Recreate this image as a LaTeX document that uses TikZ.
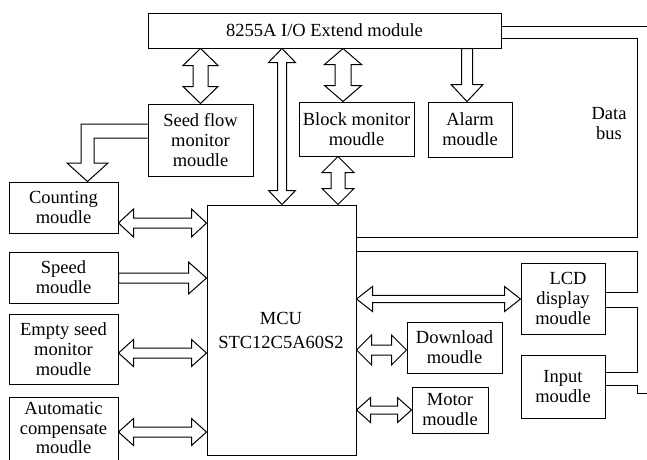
\documentclass[tikz,border=0pt]{standalone}
\usepackage{fontspec}
\setmainfont{Liberation Serif}
\usetikzlibrary{calc,fit}
\tikzset{
  box/.style={draw, line width=1pt, inner sep=0pt, align=center},
  lbl/.style={align=center, font=\fontsize{18.5}{20}\selectfont},
  fat/.style={draw, line width=1pt, fill=white, line join=miter},
  bus/.style={draw, line width=1pt}
}
% vertical double arrow: #1 top, #2 bottom, #3 head length, #4 head half width, #5 shaft half width
\newcommand\vdbl[5]{\draw[fat] let \p1=(#1), \p2=(#2) in
 (\x1,\y1) -- (\x1+#4pt,\y1-#3pt) -- (\x1+#5pt,\y1-#3pt) -- (\x1+#5pt,\y2+#3pt) -- (\x1+#4pt,\y2+#3pt) -- (\x1,\y2)
 -- (\x1-#4pt,\y2+#3pt) -- (\x1-#5pt,\y2+#3pt) -- (\x1-#5pt,\y1-#3pt) -- (\x1-#4pt,\y1-#3pt) -- cycle;}
% vertical single arrow pointing down
\newcommand\vsgl[5]{\draw[fat] let \p1=(#1), \p2=(#2) in
 (\x1-#5pt,\y1) -- (\x1+#5pt,\y1) -- (\x1+#5pt,\y2+#3pt) -- (\x1+#4pt,\y2+#3pt) -- (\x1,\y2)
 -- (\x1-#4pt,\y2+#3pt) -- (\x1-#5pt,\y2+#3pt) -- cycle;}
% horizontal double arrow: #1 left, #2 right
\newcommand\hdbl[5]{\draw[fat] let \p1=(#1), \p2=(#2) in
 (\x1,\y1) -- (\x1+#3pt,\y1+#4pt) -- (\x1+#3pt,\y1+#5pt) -- (\x2-#3pt,\y1+#5pt) -- (\x2-#3pt,\y1+#4pt) -- (\x2,\y1)
 -- (\x2-#3pt,\y1-#4pt) -- (\x2-#3pt,\y1-#5pt) -- (\x1+#3pt,\y1-#5pt) -- (\x1+#3pt,\y1-#4pt) -- cycle;}
% horizontal single arrow pointing right
\newcommand\hsgl[5]{\draw[fat] let \p1=(#1), \p2=(#2) in
 (\x1,\y1+#5pt) -- (\x2-#3pt,\y1+#5pt) -- (\x2-#3pt,\y1+#4pt) -- (\x2,\y1)
 -- (\x2-#3pt,\y1-#4pt) -- (\x2-#3pt,\y1-#5pt) -- (\x1,\y1-#5pt) -- cycle;}
\begin{document}
\begin{tikzpicture}[x=1pt,y=-1pt]
\useasboundingbox (0,0) rectangle (647,459);
\clip (0,0) rectangle (647,459);
\fill[white] (0,0) rectangle (647,459);

% boxes
\node[box, fit={(148,13) (501,48)}] (top) {};
\node[lbl] at (top.center) {8255A I/O Extend module};
\node[box, fit={(148,104) (253,176)}] (seed) {};
\node[lbl] at (seed.center) {Seed flow\\monitor\\moudle};
\node[box, fit={(299,102) (414,156)}] (block) {};
\node[lbl] at (block.center) {Block monitor\\moudle};
\node[box, fit={(428,102) (512,157)}] (alarm) {};
\node[lbl] at (alarm.center) {Alarm\\moudle};
\node[box, fit={(9,182) (118,233)}] (count) {};
\node[lbl] at (count.center) {Counting\\moudle};
\node[box, fit={(9,252) (118,303)}] (speed) {};
\node[lbl] at (speed.center) {Speed\\moudle};
\node[box, fit={(9,314) (118,384)}] (empty) {};
\node[lbl] at (empty.center) {Empty seed\\monitor\\moudle};
\node[box, fit={(9,397) (118,465)}] (auto) {};
\node[lbl, font=\fontsize{18.5}{19.5}\selectfont] at (63.5,428) {Automatic\\compensate\\moudle};
\node[box, fit={(207,205) (356,455)}] (mcu) {};
\node[lbl, font=\fontsize{18.5}{24}\selectfont] at (281,330) {MCU\\STC12C5A60S2};
\node[box, fit={(521,263) (605,334)}] (lcd) {};
\node[lbl] at (lcd.center) {\hspace*{10pt}LCD\\display\\moudle};
\node[box, fit={(407,322) (502,373)}] (down) {};
\node[lbl] at (down.center) {Download\\moudle};
\node[box, fit={(412,387) (488,433)}] (motor) {};
\node[lbl] at (motor.center) {Motor\\moudle};
\node[box, fit={(521,355) (605,418)}] (input) {};
\node[lbl] at (input.center) {Input\\moudle};
\node[lbl] (dbus) at (609,124) {Data\\bus};

% coordinates for arrow columns
\coordinate (c282) at (282,0);
\coordinate (c343) at (343,0);
\coordinate (c338) at (338,0);
\coordinate (c467) at (467,0);
\coordinate (tipc) at (87.5,0);

% vertical arrows
\vdbl{top.south -| seed.north}{seed.north}{17}{17.5}{7.5}
\vdbl{top.south -| c282}{mcu.north -| c282}{14}{13.5}{4.5}
\vdbl{top.south -| c343}{block.north -| c343}{16}{18.5}{8}
\vdbl{block.south -| c338}{mcu.north -| c338}{16}{16}{7}
\vsgl{top.south -| c467}{alarm.north -| c467}{17}{16}{5.5}

% elbow arrow seed flow -> counting
\draw[fat] (seed.west |- 0,124) -- (81,124) -- (81,163) -- (67,163) -- (count.north -| tipc)
  -- (108,163) -- (94,163) -- (94,138) -- (seed.west |- 0,138);

% horizontal arrows, left column
\hdbl{count.east |- 0,223}{mcu.west |- 0,223}{15}{14}{5}
\hsgl{speed.east |- 0,278}{mcu.west |- 0,278}{18}{16}{5}
\hdbl{empty.east |- 0,353}{mcu.west |- 0,353}{15}{13.5}{5}
\hdbl{auto.east |- 0,432}{mcu.west |- 0,432}{15}{13.5}{5}

% horizontal arrows, right side
\hdbl{mcu.east |- 0,299}{lcd.west |- 0,299}{16}{12.5}{3.7}
\hdbl{mcu.east |- 0,350}{down.west |- 0,350}{15}{15}{5}
\hdbl{mcu.east |- 0,410}{motor.west |- 0,410}{14}{12.5}{4}

% data bus lines
\draw[bus] (top.east |- 0,26) -- (650,26);
\draw[bus] (top.east |- 0,38) -- (637,38) -- (637,237) -- (mcu.east |- 0,237);
\draw[bus] (mcu.east |- 0,251) -- (637,251) -- (637,292) -- (lcd.east |- 0,292);
\draw[bus] (lcd.east |- 0,307) -- (637,307) -- (637,372) -- (input.east |- 0,372);
\draw[bus] (input.east |- 0,385) -- (637,385) -- (637,393) -- (650,393);
\end{tikzpicture}
\end{document}
